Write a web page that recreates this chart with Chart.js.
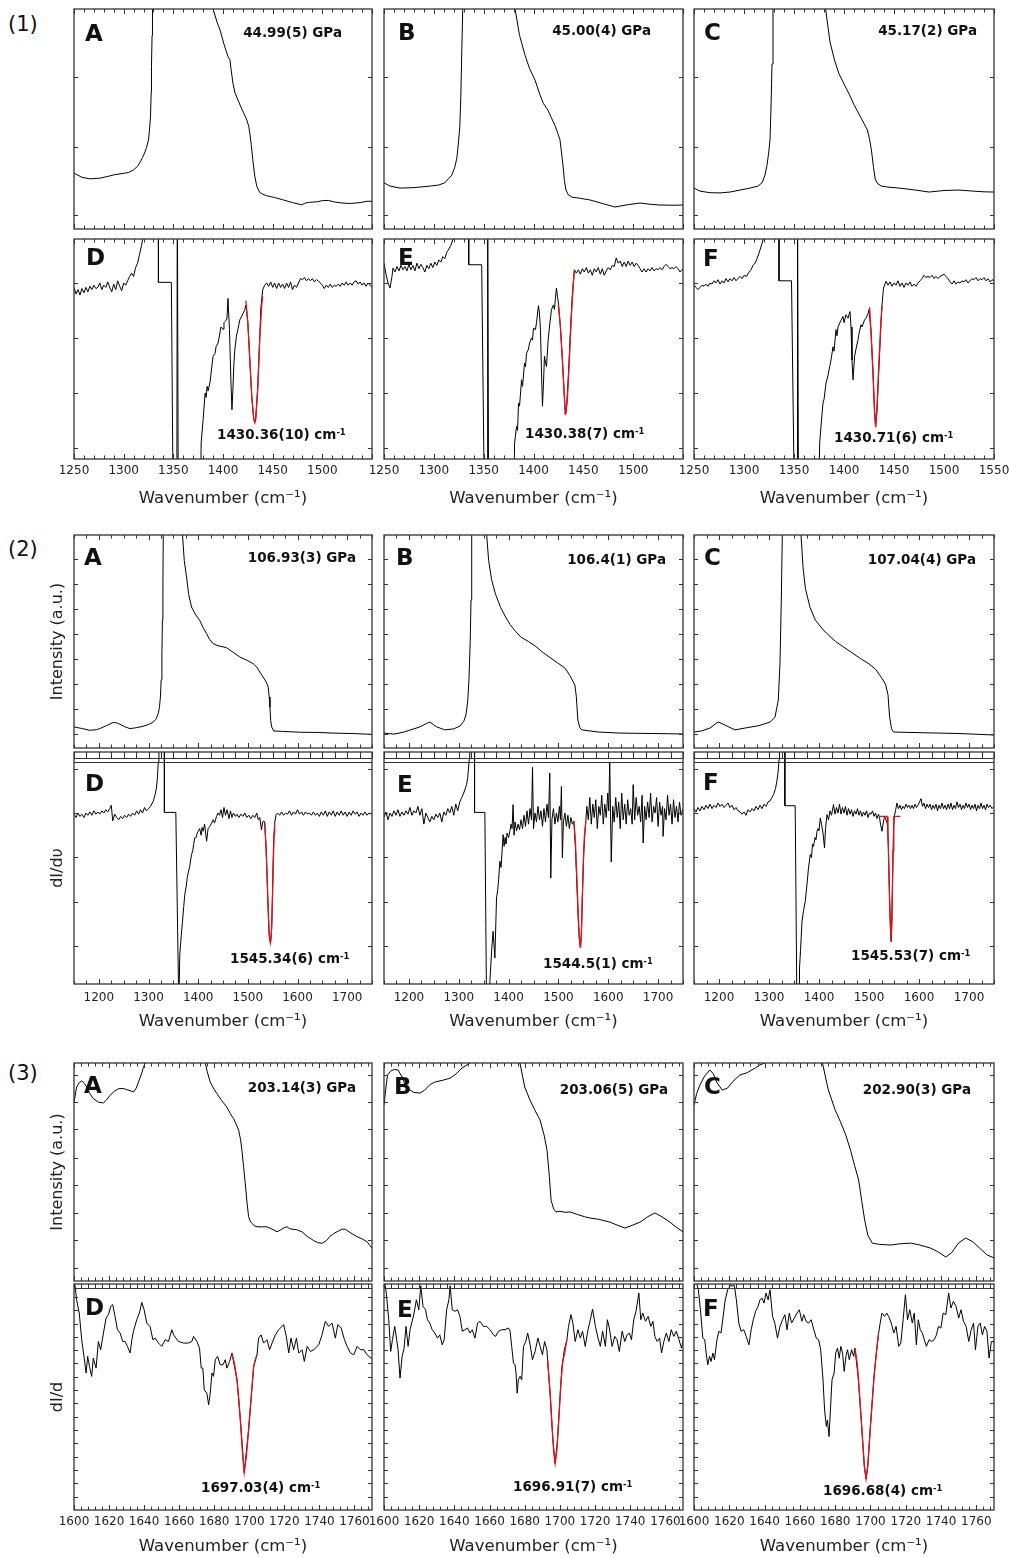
<!DOCTYPE html>
<html>
<head>
<meta charset="utf-8">
<script src="https://cdn.jsdelivr.net/npm/chart.js@4.4.0/dist/chart.umd.min.js"></script>
<style>
  body { margin: 0; background: #fff; width: 1009px; height: 1558px; position: relative; overflow: hidden; }
  canvas { position: absolute; }
  .t { position: absolute; transform: translateY(-50%); line-height: 1; white-space: nowrap; color: #111;
       font-family: 'DejaVu Sans', 'Liberation Sans', sans-serif; }
  .grp { font-size: 21px; }
  .let { font-size: 23px; font-weight: bold; }
  .ann { font-size: 13.5px; font-weight: bold; }
  .ann sup { font-size: 0.62em; vertical-align: 0.55em; line-height: 0; }
</style>
</head>
<body>
<script>
// ---------- data: [wavenumber, value, ...], value in % of panel height ----------

// (1) ~45 GPa
const g1A = [1250,25.4, 1258,23.5, 1266,22.8, 1276,23.1, 1285,24, 1291,24.7, 1300,25.3, 1305,25.7, 1310,26.9, 1314,28.5, 1316,30, 1319,32.5, 1321,34.5, 1323,37, 1325,40.5, 1326,45, 1327,51, 1327.7,62, 1328,74, 1328.6,88, 1329,100, 1330,130,
  1388,130, 1390,100, 1394,94, 1397,90.5, 1401,84, 1405,78.4, 1407,76.9, 1408,73, 1410,66.3, 1412,62, 1415,58.7, 1418,55.5, 1421,52.5, 1424,49.6, 1426,46.5, 1427,43.6, 1428.5,38, 1430,31.5, 1432,24, 1434,19.4, 1437,16.6, 1440,15.8, 1444,15.1, 1452,14.3, 1460,13.3, 1470,12, 1479,11, 1483,11.8, 1487,12.1, 1495,12.4, 1500,12.9, 1506,13, 1512,12.3, 1520,11.8, 1528,11.6, 1538,12, 1545,12.6, 1550,12.6];
const g1B = [1250,21, 1256,19.5, 1266,18.6, 1280,18.8, 1296,19.5, 1305,20, 1311,21, 1315,23, 1318,24.5, 1321,28, 1323,32, 1324,36, 1326,46, 1327,58.6, 1328,80, 1329,100, 1330,130,
  1380,130, 1381.5,100, 1386,88, 1391.5,79, 1396,73, 1401.5,67.7, 1406.5,61, 1410,57, 1414.5,54, 1418,50.5, 1421.6,47, 1424,44, 1426.6,40.5, 1428,35, 1429.6,29, 1431,22, 1432.6,17.7, 1435,15.5, 1438.6,14.5, 1446,14, 1456.7,13.2, 1470,11.5, 1481.8,10, 1494,11, 1506.9,11.8, 1518,11.2, 1527,10.9, 1540,10.8, 1550,10.9];
const g1C = [1250,18.6, 1256,17.2, 1266,16.5, 1276,16.4, 1286,16.8, 1296,17.7, 1306,18.6, 1314,19.5, 1318,21, 1321,24.5, 1323,29, 1324.5,34, 1326,40.5, 1327,55, 1328,75, 1329,100, 1330,130,
  1380,130, 1381.6,100, 1386,85, 1390.5,76.8, 1395,70.5, 1400.5,65.5, 1405.5,61, 1410,56.5, 1415.5,51.8, 1420,48, 1423.4,45, 1425.5,41, 1427.4,36, 1429.5,28, 1431.4,22.3, 1434,20.5, 1437.4,19.5, 1445,19, 1455,18.6, 1470,17.8, 1485,16.8, 1500,17.5, 1515,17.7, 1530,17.2, 1540,16.9, 1550,16.8];

const g1D = [1250,78, 1252,75, 1254,77, 1256,74.5, 1258,77.5, 1260,75.5, 1262,78, 1264,76, 1266,78.5, 1268,77, 1270,79, 1272,77.5, 1274,78, 1276,80, 1278,77, 1280,79, 1282,78, 1284,80.5, 1286,78, 1288,76, 1290,79.5, 1292,77, 1294,81, 1296,78.5, 1298,76.5, 1300,80, 1302,79, 1304,81, 1306,83, 1308,84.5, 1310,83, 1312,87, 1314,89, 1316,93, 1318,97, 1320,102, 1322,130,
  1335,130, 1335,80.3, 1348,80.3, 1350,-30, 1353.5,-30, 1354,130, 1355,-30, 1377,-30,
  1378,7.3, 1380,18, 1382,30, 1383,28, 1384,33, 1385,31, 1387,35, 1389,43, 1390,46.7, 1392,48, 1393,51, 1395,52.7, 1396,55, 1398,60, 1400,59, 1401,62, 1403,63, 1404,64, 1405,73, 1406.5,58.8, 1408,35, 1409,22.4, 1410,32, 1411,43.6, 1412,50, 1413.5,55.8, 1415,59, 1417,63.3, 1419,65, 1420,66, 1422,67.9, 1423,70, 1424,66.4,
  1425,62, 1427,45, 1429,28, 1431,18, 1432,16.7, 1433,19, 1435,33, 1437,55, 1438,68, 1440,77, 1442,79, 1444,80,
  1446,78.5, 1448,80.5, 1450,78, 1452,80, 1454,77.5, 1456,80, 1458,78, 1460,79.5, 1462,77.5, 1464,80, 1466,78, 1468,80.5, 1470,77, 1472,79, 1474,78, 1476,80, 1478,82, 1480,81.5, 1482,82.5, 1484,81, 1486,82, 1488,81, 1490,82, 1492,80.5, 1494,81.5, 1496,81, 1498,80, 1500,79, 1502,77.5, 1504,79, 1506,78, 1508,79.5, 1510,78, 1512,79, 1514,78.5, 1516,79.5, 1518,78.5, 1520,80, 1522,79, 1524,80.5, 1526,79, 1528,80, 1530,79, 1532,80.5, 1534,81, 1536,79.5, 1538,80.5, 1540,79, 1542,80, 1544,78.5, 1546,80, 1548,79, 1550,78];
const g1Dfit = [1423,72, 1425,62, 1427,45, 1429,28, 1431,18, 1432,16.5, 1433,18, 1435,32, 1437,55, 1439,70, 1440,74];

const g1E = [1250,89, 1252,84, 1254,80, 1256,77.7, 1258,83, 1259,86.8, 1261,85, 1263,87.5, 1265,85.5, 1267,88, 1269,86, 1271,87.5, 1273,85.5, 1275,88.5, 1277,86, 1279,88, 1281,85.5, 1283,89, 1285,86.5, 1287,88.5, 1289,87, 1291,85, 1293,88, 1295,86.5, 1297,89, 1299,87, 1301,89.5, 1303,88, 1305,90.5, 1307,89.5, 1309,92, 1311,91, 1313,94, 1314.5,95, 1317,97, 1320,101, 1322,130,
  1335,130, 1335,88.3, 1348,88.3, 1351,-30, 1353.5,-30, 1354,130, 1355,-30, 1380,-30,
  1381,7.3, 1383,14.8, 1384,13, 1385,25.5, 1386,24, 1388,36, 1389,33, 1391,43.6, 1392,42, 1393,48, 1395,50, 1396,52.7, 1398,55, 1399,54, 1400,59.5, 1402,58.8, 1403,62, 1405,69.7, 1406,66, 1407,58.8, 1408,40, 1409,24, 1410,34, 1411,46.7, 1412,44, 1413,42, 1414.7,54, 1416,60, 1418,67.9, 1420,70, 1421,68, 1422,73, 1423,77.7, 1424,74, 1425,70.9,
  1427,60, 1429,45, 1431,28, 1432,20, 1433,22, 1435,38, 1437,58, 1439,75, 1441,86, 1443,84.5,
  1445,86, 1447,84, 1449,86.5, 1451,85, 1453,87, 1455,84.5, 1457,86, 1459,83.5, 1461,86.5, 1463,85, 1465,87, 1467,84, 1469,86.5, 1471,83.5, 1473,85.5, 1475,87, 1477,86, 1479,88, 1481,87.5, 1483,91.4, 1485,89, 1487,90, 1489,87.5, 1491,89.5, 1493,87.5, 1495,90, 1497,88, 1499,89.5, 1501,87.5, 1503,89, 1505,88, 1507,86.5, 1509,85, 1511,86.5, 1513,85, 1515,86.5, 1517,85.5, 1519,87, 1521,85.5, 1523,86.5, 1525,86, 1527,87, 1529,86, 1531,87.5, 1533,88.5, 1535,87.5, 1537,86.5, 1539,87, 1541,86.5, 1543,87.5, 1545,86.5, 1547,85, 1550,86.5];
const g1Efit = [1425,70, 1427,60, 1429,45, 1431,28, 1432,20, 1434,27, 1436,45, 1438,65, 1440,80, 1441,86];

const g1F = [1250,79.2, 1252,78, 1254,77, 1256,78, 1258,79, 1260,78.5, 1262,79.5, 1264,78.5, 1266,80, 1268,79.5, 1270,81, 1272,80, 1274,81.5, 1276,79.5, 1278,81, 1280,80, 1282,82, 1284,80.5, 1286,82, 1288,81, 1290,82.5, 1292,81, 1294,82, 1296,83, 1298,82, 1300,83.5, 1302.5,83, 1305,85, 1307,86, 1309,88, 1311,89, 1313,91, 1316,95, 1318,98, 1320,101, 1322,130,
  1335,130, 1335,81, 1347.5,81, 1350.7,-30, 1353,-30, 1353.5,130, 1354.5,-30, 1374,-30,
  1375.7,7.3, 1377,15, 1379,25.5, 1380,27, 1382,34.5, 1384,38, 1385.7,42, 1387,45, 1389,51, 1390,49, 1392,58.8, 1393,56, 1394,60, 1395.7,61.8, 1397,63, 1399,64.8, 1400,62, 1402,65.6, 1404,64, 1406,67, 1407,60, 1408,45, 1409,36, 1410.6,46.7, 1412,50, 1414,54.2, 1415,57, 1417,61, 1418,60, 1420.6,63.3, 1422,64, 1424,66, 1425,67.9,
  1427,58, 1429,40, 1430.5,22, 1431.6,14.5, 1433,22, 1435,42, 1437,62, 1438,70, 1439.5,77.7, 1442,80.8,
  1444,79, 1446,80.5, 1448,78.5, 1450,80, 1452,79, 1454,81, 1456,78.5, 1458,80, 1460,78, 1462,80, 1464,79, 1466,80.5, 1468,78.5, 1470,79.5, 1472,78.5, 1474,80, 1476,81, 1478,82, 1480,83.5, 1482,82.5, 1484,83, 1486,82.5, 1488,83.5, 1490,82, 1492,83, 1494,82, 1496,83, 1498,83.5, 1500,84, 1502,83, 1504,82, 1506,80.5, 1508,79.5, 1510,81, 1512,79.5, 1514,80.5, 1516,80, 1518,81, 1520,80.5, 1522,81.5, 1524,80, 1526,81, 1528,82, 1530,81.5, 1532,82.5, 1534,81, 1536,82, 1538,81.5, 1540,82.5, 1542,81, 1544,82, 1546,80.5, 1548,81.5, 1550,81];
const g1Ffit = [1425.6,69, 1427,58, 1429,38, 1430.5,22, 1431.6,14.5, 1433,24, 1435,45, 1437,63, 1438,69.7];

// (2) ~107 GPa
const g2A = [1150,9.9, 1165,9.2, 1182,8.3, 1195,8.6, 1202,9.1, 1215,10.5, 1229,12, 1236,11.8, 1242.5,11.1, 1252,10, 1262.6,9.1, 1275,9.5, 1289,10.2, 1300,11, 1309.5,12.2, 1315,13.5, 1319.6,16.1, 1322,19, 1324,24, 1325.5,32, 1327,44.3, 1328,60, 1329,75.6, 1329.7,100, 1331,130,
  1366,130, 1368.5,100, 1372,88, 1376.6,80.3, 1381,72, 1386.6,66.2, 1395,62.5, 1403,60, 1410,56.5, 1416.8,53.7, 1423,51, 1430,49, 1440,48, 1450,47.5, 1457,47.1, 1470,45, 1484,42.7, 1497,41.3, 1510.7,39.6, 1518,38, 1524,35.7, 1533,32.5, 1538,30.5, 1541,28.6, 1543,24, 1544.5,19.2, 1546,13, 1548,9.9, 1552,8, 1570,7.8, 1604.5,7.4, 1640,7.3, 1671.5,7, 1710,6.8, 1750,6.4];
const g2B = [1150,7, 1170,6.5, 1190,7.5, 1210,9, 1222,9.9, 1235,11.5, 1242,12.2, 1255,10, 1272,8.5, 1290,9, 1302.5,10.3, 1310,12.5, 1314.5,15.5, 1318,22, 1320.5,32, 1323,50, 1324.6,69.5, 1326,100, 1327,130,
  1354,130, 1356,100, 1360,88, 1366,79, 1374,72, 1384,66, 1394,61.5, 1403,58, 1413,55, 1425,52, 1440,50, 1453,48, 1468,45, 1483,42.5, 1498,40, 1513,37.6, 1523,34, 1533,29.6, 1536,24, 1539,13.1, 1543,9.5, 1547,8.5, 1580,7.5, 1623.6,7, 1690,6.8, 1750,6.6];
const g2C = [1150,7.5, 1165,8, 1182,9.4, 1198,12.2, 1210,11, 1232,8.5, 1255,9.5, 1280,10.5, 1302.5,12.2, 1312,14.5, 1318.6,22.5, 1322,40, 1324.6,69.5, 1326.6,100, 1328,130,
  1362,130, 1364,100, 1368,85, 1372.7,75, 1382,66, 1392.8,60, 1410,55, 1433,50, 1458,46, 1483,42, 1500,39.5, 1513,37, 1525,33, 1533,30, 1538,25, 1541,15, 1545,9, 1549,7.5, 1600,7.2, 1680,6.8, 1750,6.1];

const g2D = [1150,76.5, 1154,75, 1158,77, 1162,75.5, 1166,76.5, 1170,75, 1174,77, 1178,76, 1182,77.5, 1186,76, 1190,78, 1194,76.5, 1198,77.5, 1202,76.5, 1206,78, 1210,77, 1214,78.5, 1218,77.5, 1222,79, 1225,80.5, 1228,73.5, 1232,76.5, 1236,75, 1240,74, 1244,75.5, 1248,74.5, 1252,76, 1256,75, 1260,76.5, 1264,75.5, 1268,77, 1272,76, 1276,78, 1280,76.5, 1284,78.5, 1288,77, 1292,79.5, 1296,78, 1300,79, 1304,80, 1309.5,82.3, 1313,85, 1316,88.3, 1318,93, 1319.6,100, 1321,130,
  1332,130, 1332,77.3, 1355,77.3, 1361,-10,
  1363,13.2, 1366,22, 1368.5,28.2, 1371,35, 1373,40.2, 1376,44, 1378,48, 1380,50, 1383,53, 1386.6,58.3, 1389,60, 1391,63, 1393,65.8, 1396,66, 1398,68, 1400,68.8, 1403,70, 1406,67, 1408,70.5, 1410,68.8, 1413,72, 1417,64.3, 1420,70, 1423.5,71, 1427,72.5, 1430,74, 1433,72.5, 1437,75.5, 1440,77, 1443,76, 1446,78.5, 1449,75, 1452,79.5, 1455,76, 1458,78.5, 1462,74.5, 1465,78, 1468,75, 1471,77, 1475,75.5, 1478,76.5, 1482,75, 1486,76.5, 1490,75.5, 1494,77, 1498,75, 1502,76, 1506,74.5, 1510,76, 1514,75, 1518,77, 1521,74, 1524,75, 1527.5,69.5, 1530,73, 1532,73.5, 1534,72.5,
  1537,60, 1540,40, 1543,22, 1545.5,18.5, 1548,25, 1550,45, 1552,65, 1554,72.5,
  1557,76.3, 1560,77, 1564,76, 1568,77.5, 1572,76, 1576,77, 1580,76.5, 1584,78, 1588,76, 1592,77.5, 1596,76.5, 1600,78.5, 1604,76.5, 1608,77.5, 1612,76, 1616,77.5, 1620,76.5, 1624,77, 1628,76, 1632,77.5, 1636,76, 1640,77, 1644,75.5, 1648,77.5, 1652,76, 1656,78, 1660,75.5, 1664,77.5, 1668,76, 1672,78, 1676,75.5, 1680,77.5, 1684,76, 1688,78, 1692,76, 1696,77.5, 1700,75.5, 1704,77.5, 1708,76, 1712,78, 1716,76.5, 1720,77.5, 1724,75.5, 1728,77, 1732,76, 1736,77.5, 1740,76, 1744,77, 1750,76.5];
const g2Dfit = [1534,72.5, 1537,60, 1540,40, 1542,27, 1543.5,21, 1545.5,18.5, 1547,21, 1549,32, 1551,52, 1553,68, 1554,72.5];

const g2E = [1150,75, 1154,77.5, 1158,74, 1162,77, 1166,75.5, 1170,78, 1174,76, 1178,78.5, 1182,75.5, 1186,77.5, 1190,76, 1194,78, 1198,76.5, 1202,79.5, 1206,76, 1210,78, 1214,77, 1218,80, 1222,76, 1226,79, 1230,72, 1234,77, 1238,75, 1242,73, 1246,75.5, 1250,74, 1254,76.5, 1258,75, 1262,77, 1266,73, 1270,77.5, 1274,76, 1278,79, 1282,77, 1286,80, 1290,76, 1294,81, 1298,78, 1302,82, 1306,84, 1310,86, 1315.7,89.8, 1318,93, 1321,101, 1322,130,
  1331.7,130, 1331.7,77.3, 1352.4,77.3, 1355.8,-10, 1360,-10,
  1362.5,1.2, 1366,15, 1369,23.7, 1372.5,11.7, 1375.8,38.7, 1378,42, 1380,47, 1382.5,55.3, 1385,52.5, 1387,60, 1389,67.3, 1391,62, 1393,66, 1395,63, 1397,68, 1400,66, 1402.6,68.8, 1405,72, 1407,70, 1409,80.8, 1411,67, 1413,73, 1416,69, 1419,72, 1422,69.5, 1425,74, 1428,70, 1431,76, 1434,71, 1437,78, 1440,72, 1443,79, 1446,74, 1448,97.6, 1450,70, 1453,77, 1456,73, 1459,80, 1462,74, 1465,78, 1468,71, 1471,79, 1474,73, 1477,81, 1480,75, 1482.7,95, 1484.7,47.7, 1487,74, 1490,79, 1493,72, 1496,77, 1499,73, 1502,80, 1504,74, 1506,89, 1508,56.8, 1510,73, 1513,77, 1516,71, 1519,76, 1522,70, 1525,75, 1528,72, 1531,73.3,
  1534,62, 1537,45, 1540,28, 1542,20, 1544.2,16.2, 1546,22, 1548,40, 1551,60, 1553,68, 1555,73.3,
  1557,80, 1560,74, 1563,84, 1566,72, 1569,81, 1572,75, 1575,83, 1578,70, 1581,80, 1584,76, 1587,85, 1590,72, 1593,81, 1596,75, 1599,86, 1601,78, 1603,100, 1606,55, 1609,80, 1612,73, 1615,84, 1618,75, 1621,82, 1624,70, 1627,86, 1630,74, 1633,81, 1636,72, 1639,83, 1642,76, 1645,79, 1648,72, 1650,89.8, 1653,74, 1656,84, 1659,76, 1662,80, 1665,73, 1668,85, 1670,63.5, 1673,80, 1676,74, 1679,82, 1682,75, 1685,86, 1688,73, 1691,80, 1694,77, 1697,84, 1700,71, 1703,82, 1706,76, 1709,80, 1710,66.5, 1713,79, 1716,74, 1719,85, 1722,76, 1725,81, 1728,72, 1731,83, 1734,75, 1737,80, 1740,73, 1743,82, 1746,76, 1750,79];
const g2Efit = [1531,73.3, 1534,65, 1537,48, 1540,30, 1542,21, 1544.2,16.2, 1546,22, 1548,38, 1550,55, 1552,66, 1555,73.3];

const g2F = [1150,79, 1154,77.5, 1158,79.5, 1162,78, 1166,80, 1170,78.5, 1174,80.5, 1178,79, 1182,81, 1186,79, 1190,80.5, 1194,79.5, 1198,81.5, 1202,80, 1206,81, 1210,79.5, 1214,80.5, 1218,81.5, 1222,79.5, 1226,80.5, 1230,78.5, 1234,79.5, 1238,78, 1242,77.5, 1246,76.5, 1250,77.5, 1254,76, 1258,78.5, 1262,77.5, 1266,79, 1270,78, 1274,80, 1278,78.5, 1282,80.5, 1286,79, 1290,81, 1294,80, 1298,82, 1302,82.5, 1306,84, 1309,85.3, 1313,88, 1315.7,91.3, 1318,95, 1320,101, 1321,130,
  1331.7,130, 1331.7,80.3, 1352.4,80.3, 1355.8,-10, 1360,-10,
  1361,7.2, 1363,15, 1366,28.2, 1369,33, 1372.5,37.2, 1376,45, 1379,52.3, 1382.5,58.3, 1385,57, 1387,63, 1389,62, 1392,66, 1394,65, 1396,68.8, 1398,70, 1400,69, 1402.6,74.8, 1405,72, 1408,68, 1411,61.3, 1413,70, 1416,76.3, 1419,74, 1422,78, 1425,76, 1429,80.8, 1432,76.5, 1435,79.5, 1438,77, 1441,81, 1444,76.5, 1447,79.5, 1450,77, 1453,80, 1456,76, 1459,79, 1462,76.5, 1465,78.5, 1468,75.5, 1471,78, 1474,76.5, 1477,79, 1480,76, 1483,78, 1486,75.5, 1489,77.5, 1492,76, 1495,78, 1498,75, 1501,77, 1504,76.5, 1507,78, 1510,75.5, 1513,77, 1516,74.5, 1519,76.5, 1521,75, 1523,72, 1526,68.8, 1528,72, 1531,75.5, 1534,74, 1537,72,
  1539,60, 1541,40, 1543,25, 1544,19.2, 1545,22, 1547,45, 1549,70, 1551,76, 1553,78,
  1556,81.5, 1559,79, 1562,80.5, 1565,78.5, 1568,80, 1571,79, 1574,81, 1577,79.5, 1580,80.5, 1583,79, 1586,80.5, 1589,79, 1592,81, 1595,79.5, 1598,80.5, 1601,82, 1604,83.5, 1607,80, 1610,81.5, 1613,79, 1616,81, 1619,79.5, 1622,81, 1625,78.5, 1628,80.5, 1631,79, 1634,81, 1637,78, 1640,80.5, 1643,79, 1646,81.5, 1649,79, 1652,80.5, 1655,78.5, 1658,81, 1661,79, 1664,81.5, 1667,78.5, 1670,80.5, 1673,79, 1676,82, 1679,79.5, 1682,81, 1685,78.5, 1688,80.5, 1691,79, 1694,81.5, 1697,79.5, 1700,81, 1703,78.5, 1706,80.5, 1709,79, 1712,81, 1715,78, 1718,80.5, 1721,79, 1724,81.5, 1727,79, 1730,80.5, 1733,78.5, 1736,81, 1739,79.5, 1742,80.5, 1746,79, 1750,80];
const g2Ffit = [1521,75.5, 1536,75.5, 1538,68, 1540,48, 1542,30, 1544,19.2, 1546,30, 1548,60, 1549.6,75.5, 1563,75.5];

// (3) ~203 GPa
const g3A = [1600,82.1, 1601.5,89, 1603,91, 1604.4,91.8, 1606,90.5, 1607.2,89, 1609,86, 1611,83.7, 1614,82, 1616.8,81.7, 1618.5,83, 1620.6,85.2, 1623,87, 1625.3,88.2, 1628,88.3, 1630,87.8, 1632,87.3, 1634,86.7, 1635.5,88.5, 1636.8,91.3, 1638.5,95, 1639.6,98, 1640.6,100, 1642,120,
  1674,120, 1674.9,100, 1676,96, 1677.7,91.3, 1679.5,88.5, 1681.5,86, 1684,83, 1687.2,79.8, 1689,77, 1691,74.5, 1692.5,72, 1693.9,69.2, 1695,65, 1695.8,60, 1696.8,52, 1697.7,44.7, 1698.7,36, 1699.6,29.5, 1700.5,27.5, 1701.5,26.4, 1703,25.3, 1704.4,24.9, 1707,24.8, 1710,24.9, 1713,23.8, 1715.8,22.6, 1718,23.5, 1720,24.5, 1721.5,24.9, 1723,24, 1725,23.7, 1727,23.5, 1730,22.6, 1733,20.5, 1736.8,18.5, 1739,17.6, 1741.5,17.3, 1744,18.5, 1746,20.5, 1748.2,21.8, 1751,23, 1753,23.8, 1754.9,23.7, 1757,22.5, 1759,21.5, 1761.5,20.3, 1764,19.5, 1767.2,18, 1770,15];
const g3B = [1600,80.7, 1601,88, 1602,94.5, 1604,96.5, 1606,97, 1608,96.8, 1610,94, 1612,90, 1614.8,87.6, 1617,86.5, 1620.5,86.2, 1623,87.5, 1626,90, 1629,91.3, 1633,92, 1637.5,93, 1641,95, 1644.4,97.7, 1649,100, 1651,120,
  1676,120, 1677.3,100, 1680,89, 1683,83, 1686,78, 1688.7,73.9, 1691,67, 1692.7,60, 1694,48, 1695,37, 1696.5,33, 1697.8,31.7, 1700,32, 1703,31.5, 1705.8,31.7, 1710,30.5, 1714,29.5, 1717,28.9, 1722,28.3, 1728.5,27, 1733,25.5, 1737,24.3, 1741,25.5, 1745.6,27, 1750,29.5, 1754,31.2, 1758,29.5, 1762.6,27, 1766,24.8, 1770,22.5];
const g3C = [1600,80.7, 1601.5,86, 1603.4,90, 1606,94, 1609,96.8, 1611,95, 1613,91, 1616,87.6, 1619,88.5, 1622,91.5, 1626,94.5, 1630,95.5, 1634.7,97.7, 1637,99, 1640,100, 1642,120,
  1671,120, 1672.8,100, 1676,88, 1680,78.4, 1683,73, 1686,67, 1688.7,60, 1691,53, 1693.3,46.3, 1695,37, 1696.7,28, 1698.5,21, 1701,17.4, 1705,16.8, 1711.4,16.5, 1716,17, 1722.8,17.4, 1728,16.5, 1734,15.1, 1738,13.5, 1742.7,11, 1746,13, 1750,17.5, 1754,19.7, 1758,18, 1762,15, 1766,12, 1770,10.6];

const g3D = [1600,105, 1601.5,94.7, 1603,88.7, 1604.4,76.7, 1605.7,69.2, 1606.9,61.7, 1607.8,69.2, 1608.8,64.7, 1610.1,60.2, 1611,68.4, 1612.6,63.9, 1613.9,75.9, 1615.2,72.2, 1616.8,79.7, 1618.3,86.5, 1619.6,88, 1621,91.7, 1622.1,92.5, 1623.4,87.2, 1624.8,81.2, 1626.3,79.7, 1627.8,75.9, 1629.1,75.9, 1630.5,73.7, 1632,70.7, 1633,76.7, 1633.9,80.5, 1635.8,85.7, 1637.3,88.7, 1638.7,93.5, 1640,90.2, 1641.5,84.2, 1643.4,82.7, 1645,76.7, 1646.3,77.4, 1648.2,75.2, 1650.1,73.7, 1652,76.7, 1653.9,75.9, 1655.8,81.2, 1656.8,78.9, 1659.6,75.9, 1662.5,75.2, 1665.3,75.2, 1667.2,75.9, 1668.2,78.2, 1670.1,75.9, 1671.6,72.9, 1672.6,63.9, 1673.5,63.9, 1674.3,54.1, 1675.8,52.6, 1676.8,47.4, 1677.7,52.6, 1678.7,61.7, 1679.6,60.2, 1680.6,67.7, 1681.9,69.2, 1683.4,65.4, 1685,65.4, 1686.3,67.7, 1687.2,63.9, 1688.8,66.9, 1690.1,70.7,
  1693,58.6, 1694.9,40.6, 1697.1,16.8, 1699.6,36.1, 1702.5,64.7, 1704.4,69.9,
  1705.3,77.4, 1706.7,78.9, 1708.2,75.2, 1710.1,76.7, 1711.6,72.2, 1713,75.2, 1714.9,78.9, 1716.8,81.2, 1719.6,83.5, 1721.1,78.2, 1722.5,70.7, 1723.8,77.4, 1725.3,72.2, 1726.9,77.4, 1728.2,70.7, 1730.1,72.2, 1731.4,66.9, 1733,73.7, 1734.9,71.4, 1736.8,72.2, 1739.6,74.4, 1741.5,78.9, 1743.4,85, 1745.3,82.7, 1747.2,84.2, 1749.1,77.4, 1750.5,83.5, 1752.4,82, 1754.3,76.7, 1755.8,73.7, 1757.7,70.7, 1759.6,69.9, 1761.5,73.7, 1763.4,72.2, 1765.3,72.2, 1767.2,69.9, 1770.5,67.7];
const g3Dfit = [1690.1,70.7, 1691.5,66, 1693,58.6, 1694,50, 1694.9,40.6, 1696,27, 1697.1,16.8, 1698.3,24, 1699.6,36.1, 1701,50, 1702.5,64.7, 1703.5,68, 1704.4,69.9];

const g3E = [1600,105, 1601.3,97.7, 1602.7,85.7, 1603.8,71.4, 1604.8,76.7, 1606.1,82.7, 1607.2,76.7, 1608,72.2, 1609.1,59.4, 1610.3,69.2, 1611.4,72.9, 1612.5,82.7, 1613.7,73.7, 1614.8,81.2, 1616,85, 1617.1,88.7, 1618.4,94.7, 1619.8,90.2, 1620.9,101, 1622.2,91.7, 1623.6,90.2, 1624.7,85.7, 1626,84.2, 1627.4,81.2, 1628.9,79.7, 1630.4,77.4, 1631.7,78.9, 1633.1,74.4, 1634.2,76.7, 1635.6,90.2, 1636.9,94.7, 1637.6,101, 1638.8,90.2, 1640.3,89.5, 1641.8,90.2, 1643.2,87.2, 1644.5,80.5, 1646,81.2, 1647.5,82, 1648.9,79.7, 1650.2,81.2, 1651.7,77.4, 1653.2,84.2, 1654.6,85, 1656.5,82.7, 1658.4,82.7, 1660.3,81.2, 1662.2,78.9, 1663.5,78.2, 1665,80.5, 1666.9,81.2, 1668.8,81.2, 1670.7,82, 1671.7,80.5, 1672.6,73.7, 1673.6,66.2, 1674.5,65.4, 1675.1,61.7, 1675.7,52.6, 1676.4,58.6, 1677.4,60.2, 1678.3,58.6, 1679.3,73.7, 1680.6,75.9, 1681.7,79.7, 1683.1,74.4, 1684.4,67.7, 1685.9,71.4, 1687.5,77.4, 1688.8,73.7, 1690.1,69.9, 1691.3,75.9, 1692.6,72.2,
  1693,67.7, 1694.5,52, 1696,32, 1697.3,21, 1698.5,30, 1700,50, 1701.1,64, 1702.5,72, 1704,76.7,
  1704.9,82.7, 1706.3,88, 1707.4,84.2, 1708.7,75.9, 1710.3,81.2, 1711.6,77.4, 1712.9,80.5, 1714.4,73.7, 1716,81.2, 1717.3,85.7, 1718.6,90.5, 1720.2,82.7, 1721.7,77.4, 1723,73.7, 1724.3,80.5, 1725.9,73.7, 1727,85.7, 1728.1,82, 1729.7,73.7, 1731.2,78.2, 1732.5,76.7, 1733.8,71.4, 1735.4,80.5, 1736.9,75.9, 1738.2,78.9, 1739.5,79.7, 1740.7,76.7, 1742,85.7, 1743.3,89.5, 1744.9,97.7, 1746,85.7, 1747.1,88.7, 1748.7,85, 1750.2,87.2, 1751.7,82.7, 1752.9,85, 1754,78.2, 1755.3,75.9, 1756.7,77.4, 1757.8,70.7, 1759.1,75.9, 1760.5,79.7, 1762,75.9, 1763.3,81.2, 1764.8,78.2, 1766.2,80.5, 1767.7,76.7, 1769.2,72.9, 1770.5,78.2];
const g3Efit = [1693,67.7, 1694.5,52, 1695.5,38, 1696.5,26, 1697.3,21, 1698.3,27, 1699.5,42, 1700.5,56, 1701.5,66, 1703,72, 1704,76.7];

const g3F = [1600,105, 1600.6,105, 1602.5,99.2, 1603.8,88.7, 1605,77.4, 1606.1,76.7, 1606.9,70.7, 1607.8,65.4, 1608.8,69.2, 1609.7,66.9, 1610.7,70.7, 1611.6,67.7, 1613,76.7, 1614.1,80.5, 1615.3,79.7, 1616.4,86.5, 1617.7,94.7, 1619.1,99.2, 1620.6,101, 1622.9,101, 1624,94.7, 1625.4,84.2, 1626.7,80.5, 1628.2,81.2, 1629.6,78.2, 1631.1,74.4, 1632.4,81.2, 1633.6,85.7, 1634.9,89.5, 1636.3,91.7, 1637.4,94.7, 1638.5,95.5, 1639.7,93.2, 1640.8,97.7, 1642,94.7, 1643.1,99.2, 1644.5,87.2, 1645.8,84.2, 1647.3,77.4, 1648.7,82.7, 1650.2,85.7, 1651.5,88, 1652.7,81.2, 1654,88.7, 1655.3,84.2, 1656.9,86.5, 1658.4,88.7, 1659.7,90.2, 1661.1,85, 1662.2,88, 1663.5,85, 1664.9,84.2, 1666.4,85.7, 1667.9,81.2, 1669.3,77.4, 1670.6,76.7, 1671.8,72.2, 1673.1,58.6, 1674,45.1, 1675,37.6, 1675.6,40.6, 1676.5,33.1, 1677.3,45.1, 1678.2,58.6, 1679.4,61.7, 1680.3,70.7, 1681.3,72.9, 1682.3,68.4, 1683.2,73.7, 1684.2,70.7, 1685.1,62.4, 1686.1,69.2, 1687,72.2, 1688,67.7, 1689.3,72.2, 1690.5,69.2, 1691.2,72.9,
  1693,60, 1695,38, 1696.5,20, 1697.5,14, 1698.5,20, 1700,38, 1702,60, 1703.5,72, 1704.6,79.7,
  1705.5,84.2, 1706.5,88.7, 1708,87.2, 1709.2,88.7, 1710.3,87.2, 1711.8,84.2, 1713.2,79.7, 1714.5,82.7, 1716,73.7, 1717.2,75.2, 1718.5,85.7, 1719.8,97, 1721,85.7, 1722.3,90.2, 1723.7,84.2, 1724.8,88.7, 1726,74.4, 1727.1,85.7, 1728.2,81.2, 1729.4,79.7, 1730.5,76.7, 1731.7,73.7, 1733.2,76.7, 1734.7,75.9, 1736.1,76.7, 1737.4,78.9, 1738.5,82.7, 1739.9,82, 1741.2,88.7, 1742.7,88, 1744.3,97.7, 1745.6,91, 1747,94, 1748.5,91.7, 1750,86.5, 1751.3,90.2, 1752.7,85, 1754.2,82.7, 1755.7,75.9, 1757.1,81.2, 1758.4,84.2, 1759.5,72.2, 1760.9,82.7, 1762.2,84.2, 1763.4,78.9, 1764.7,82.7, 1766,80.5, 1767.2,68.4, 1768.5,75.9, 1769.8,75.9, 1771,72.9];
const g3Ffit = [1691.2,72.9, 1692.5,66, 1693.5,56, 1695,38, 1696.5,20, 1697.5,14, 1698.5,20, 1700,38, 1702,60, 1703.5,72, 1704.6,79.7];

// ---------- layout ----------
const FONT = "'DejaVu Sans', 'Liberation Sans', sans-serif";
const TICK_SIZE = 12;
const cols = [[74, 372], [384, 683], [694, 994]];
// rows: pixel extent of each frame; yMax: top of the frame in data units;
// bands: extra horizontal axis lines (data units) drawn inside the lower frames
const groups = [
  { rows: [[9, 229], [239, 459]], yMax: [100, 100], bands: [[], []],
    xmin: 1250, xmax: 1550, minor: 10, major: 50, tickPad: 4.5, titlePad: 6,
    yTicks: [[6.2, 37.5, 69], [5, 30, 55, 80]], yTitles: [null, null] },
  { rows: [[535, 748], [752, 984]], yMax: [100, 104.5], bands: [[], [101.8, 100]],
    xmin: 1150, xmax: 1750, minor: 25, major: 100, tickPad: 6.5, titlePad: 0,
    yTicks: [[6.7, 18.5, 30.2, 41.9, 53.7, 65.4, 77.2, 88.9], [17, 37, 57, 77, 97]], yTitles: ['Intensity (a.u.)', 'dI/d\u03c5'] },
  { rows: [[1063, 1281], [1284, 1510]], yMax: [100, 101.8], bands: [[], [100]],
    xmin: 1600, xmax: 1770, minor: 4, major: 20, tickPad: 4.5, titlePad: 3,
    yTicks: [[6.1, 18.8, 31.3, 44, 56.6, 69.5, 82.1, 94.7], [6, 12, 18, 24, 30, 36, 42, 48, 54, 60, 66, 72, 78, 84, 90, 96]], yTitles: ['Intensity (a.u.)', 'dI/d'] }
];

const panels = [
  [0, 0, 0, g1A, null], [0, 0, 1, g1B, null], [0, 0, 2, g1C, null],
  [0, 1, 0, g1D, g1Dfit], [0, 1, 1, g1E, g1Efit], [0, 1, 2, g1F, g1Ffit],
  [1, 0, 0, g2A, null], [1, 0, 1, g2B, null], [1, 0, 2, g2C, null],
  [1, 1, 0, g2D, g2Dfit], [1, 1, 1, g2E, g2Efit], [1, 1, 2, g2F, g2Ffit],
  [2, 0, 0, g3A, null], [2, 0, 1, g3B, null], [2, 0, 2, g3C, null],
  [2, 1, 0, g3D, g3Dfit], [2, 1, 1, g3E, g3Efit], [2, 1, 2, g3F, g3Ffit]
];

const pts = a => {
  const r = [];
  for (let i = 0; i < a.length; i += 2) r.push({x: a[i], y: a[i + 1]});
  return r;
};

// frame with inward ticks on all four sides, plus optional band lines
const framePlugin = {
  id: 'frame',
  afterDatasetsDraw(chart, args, opts) {
    const {ctx, chartArea: a, scales: {x, y}} = chart;
    ctx.save();
    ctx.strokeStyle = '#333';
    ctx.lineWidth = 1;
    ctx.beginPath();
    x.ticks.forEach(t => {
      const p = Math.round(x.getPixelForValue(t.value)) + 0.5;
      const len = t.value % opts.major === 0 ? 5 : 3.5;
      ctx.moveTo(p, a.bottom); ctx.lineTo(p, a.bottom - len);
      ctx.moveTo(p, a.top); ctx.lineTo(p, a.top + len);
      opts.bands.forEach((v, i) => {
        if (i > 0) return;
        const q = Math.round(y.getPixelForValue(v));
        ctx.moveTo(p, q); ctx.lineTo(p, q - 3);
      });
    });
    opts.yTicks.forEach(v => {
      const p = Math.round(y.getPixelForValue(v)) + 0.5;
      ctx.moveTo(a.left, p); ctx.lineTo(a.left + 4, p);
      ctx.moveTo(a.right, p); ctx.lineTo(a.right - 4, p);
    });
    opts.bands.forEach(v => {
      const q = Math.round(y.getPixelForValue(v)) + 0.5;
      ctx.moveTo(a.left, q); ctx.lineTo(a.right, q);
    });
    ctx.stroke();
    ctx.lineWidth = 1.3;
    ctx.strokeRect(a.left, a.top, a.right - a.left, a.bottom - a.top);
    ctx.restore();
  }
};

function makePanel([gi, row, col, trace, fit]) {
  const g = groups[gi];
  const [top, bottom] = g.rows[row];
  const [left, right] = cols[col];
  const isBottom = row === 1;
  const yTitle = col === 0 ? g.yTitles[row] : null;
  const xh = isBottom ? TICK_SIZE * 1.2 + 2 * g.tickPad + 16.5 * 1.2 + g.titlePad + 2 : 4;
  const exactH = 4 + (bottom - top) + xh;
  const H = Math.ceil(exactH);
  const W = 34 + (right - left) + 20;
  const cv = document.createElement('canvas');
  cv.width = W; cv.height = H;
  cv.style.left = (left - 34) + 'px';
  cv.style.top = (top - 4) + 'px';
  document.body.appendChild(cv);

  const ds = [];
  if (fit) ds.push({data: pts(fit), borderColor: '#e3101c', borderWidth: 1.3});
  ds.push({data: pts(trace), borderColor: '#000', borderWidth: 1});

  new Chart(cv, {
    type: 'line',
    data: {datasets: ds},
    options: {
      responsive: false,
      animation: false,
      events: [],
      elements: {point: {radius: 0}, line: {tension: 0}},
      layout: {padding: {left: yTitle ? 34 - 25.6 : 34, right: 20, top: 4,
                         bottom: (isBottom ? 0 : 4) + (H - exactH)}},
      plugins: {
        legend: {display: false},
        tooltip: {enabled: false},
        frame: {major: g.major, yTicks: g.yTicks[row], bands: g.bands[row]}
      },
      scales: {
        x: {
          type: 'linear', min: g.xmin, max: g.xmax,
          grid: {display: false, drawTicks: false},
          border: {display: false},
          afterBuildTicks: s => {
            const t = [];
            for (let v = g.xmin; v <= g.xmax + 1e-9; v += g.minor) t.push({value: v});
            s.ticks = t;
          },
          ticks: {
            display: isBottom, autoSkip: false, maxRotation: 0, padding: g.tickPad,
            color: '#222', font: {family: FONT, size: TICK_SIZE},
            callback: v => (v % g.major === 0 && !(gi === 0 && col < 2 && v === g.xmax)) ? String(v) : ''
          },
          title: {display: isBottom, text: 'Wavenumber (cm\u207b\u00b9)', color: '#222',
                  font: {family: FONT, size: 16.5}, padding: {top: g.titlePad, bottom: 2}}
        },
        y: {
          min: 0, max: g.yMax[row],
          grid: {display: false, drawTicks: false},
          border: {display: false},
          ticks: {display: false},
          title: {display: !!yTitle, text: yTitle || '', color: '#222',
                  font: {family: FONT, size: 16}, padding: {top: 0, bottom: 6.4}}
        }
      }
    },
    plugins: [framePlugin]
  });
}

panels.forEach(makePanel);

// ---------- text labels ----------
const CM = ' cm<sup>-1</sup>';
const labels = [
  // [html, x, yCenter, class, alignRight]
  ['(1)', 8, 24, 'grp'], ['(2)', 8, 549, 'grp'], ['(3)', 8, 1073, 'grp'],
  ['A', 85, 32.5, 'let'], ['B', 398, 32, 'let'], ['C', 704, 32, 'let'],
  ['D', 86, 257, 'let'], ['E', 398, 257, 'let'], ['F', 703, 258, 'let'],
  ['A', 84, 556.5, 'let'], ['B', 396, 557, 'let'], ['C', 704, 557, 'let'],
  ['D', 85, 783, 'let'], ['E', 397, 784, 'let'], ['F', 703, 782, 'let'],
  ['A', 84, 1085, 'let'], ['B', 394, 1086, 'let'], ['C', 704, 1086, 'let'],
  ['D', 85, 1307, 'let'], ['E', 397, 1309, 'let'], ['F', 703, 1308, 'let'],
  ['44.99(5) GPa', 342, 33, 'ann', true], ['45.00(4) GPa', 651, 31, 'ann', true], ['45.17(2) GPa', 977, 31, 'ann', true],
  ['106.93(3) GPa', 356, 558, 'ann', true], ['106.4(1) GPa', 666, 560, 'ann', true], ['107.04(4) GPa', 976, 560, 'ann', true],
  ['203.14(3) GPa', 356, 1088, 'ann', true], ['203.06(5) GPa', 668, 1090, 'ann', true], ['202.90(3) GPa', 971, 1090, 'ann', true],
  ['1430.36(10)' + CM, 217, 435, 'ann'], ['1430.38(7)' + CM, 525, 434, 'ann'], ['1430.71(6)' + CM, 834, 437.5, 'ann'],
  ['1545.34(6)' + CM, 230, 958.5, 'ann'], ['1544.5(1)' + CM, 543, 964, 'ann'], ['1545.53(7)' + CM, 851, 956, 'ann'],
  ['1697.03(4)' + CM, 201, 1487.5, 'ann'], ['1696.91(7)' + CM, 513, 1486.5, 'ann'], ['1696.68(4)' + CM, 823, 1491, 'ann']
];
labels.forEach(([html, x, y, cls, right]) => {
  const d = document.createElement('div');
  d.className = 't ' + cls;
  d.innerHTML = html;
  d.style.top = y + 'px';
  if (right) d.style.right = (1009 - x) + 'px'; else d.style.left = x + 'px';
  document.body.appendChild(d);
});
</script>
</body>
</html>
